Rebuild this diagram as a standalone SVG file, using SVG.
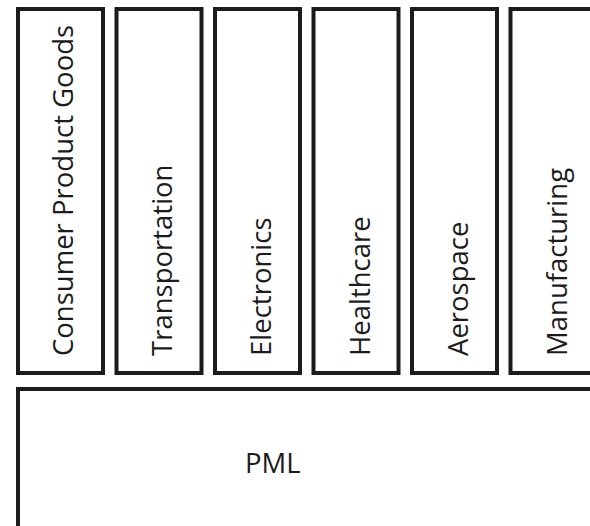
<svg xmlns="http://www.w3.org/2000/svg" width="590" height="526" viewBox="0 0 590 526">
  <style>
    .box { fill: #ffffff; stroke: #1c1c1c; stroke-width: 4; }
    .label { font-family: "Open Sans", "Noto Sans", "DejaVu Sans", sans-serif; font-size: 27.5px; fill: #1c1c1c; }
  </style>
  <rect x="0" y="0" width="590" height="526" fill="#ffffff"/>

  <!-- industry columns -->
  <g id="consumer-product-goods">
    <rect class="box" x="18" y="9" width="85" height="364"/>
    <text class="label" transform="translate(73,356) rotate(-90)">Consumer Product Goods</text>
  </g>
  <g id="transportation">
    <rect class="box" x="116.5" y="9" width="85" height="364"/>
    <text class="label" transform="translate(171.5,356) rotate(-90)">Transportation</text>
  </g>
  <g id="electronics">
    <rect class="box" x="215" y="9" width="85" height="364"/>
    <text class="label" transform="translate(270.5,356) rotate(-90)">Electronics</text>
  </g>
  <g id="healthcare">
    <rect class="box" x="313.5" y="9" width="85" height="364"/>
    <text class="label" transform="translate(369.5,356) rotate(-90)">Healthcare</text>
  </g>
  <g id="aerospace">
    <rect class="box" x="412" y="9" width="85" height="364"/>
    <text class="label" transform="translate(468,356) rotate(-90)">Aerospace</text>
  </g>
  <g id="manufacturing">
    <rect class="box" x="510.5" y="9" width="140" height="364"/>
    <text class="label" transform="translate(567,356) rotate(-90)">Manufacturing</text>
  </g>

  <!-- base layer -->
  <g id="pml">
    <rect class="box" x="18" y="389" width="640" height="200"/>
    <text class="label" x="245" y="473">PML</text>
  </g>

  <g id="connectors"></g>
</svg>
